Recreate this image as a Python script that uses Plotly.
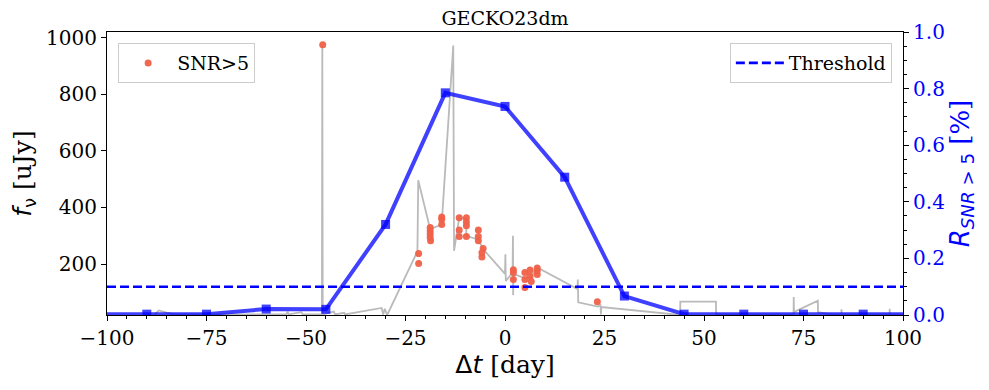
import plotly.graph_objects as go

# light curve (gray line), time in days relative to peak, flux in uJy
flux_t = [-88, -87, -85, -83, -60, -55, -54.6, -54.4, -51.2, -50.8, -46, -45.9, -45.8,
          -43, -42.7, -40.4, -40.2, -31, -30.6, -30.2, -29.6, -22, -21.8, -18.8, -15.9,
          -15.8, -13.0, -12.8, -11.5, -9.8, -9.7, -6.7, -5.5, 0.0, 0.1, 0.2, 1.9, 2.0,
          2.05, 2.1, 5.0, 6.3, 8.1, 18.2, 18.3, 18.4, 23.3, 24.0, 24.1, 24.2, 44.0, 44.05,
          53.0, 53.05, 72.5, 72.55, 72.6, 78.6, 78.65, 82.0, 84.5, 84.55, 84.6, 96.6,
          96.65, 96.7, 100]
flux_v = [22, 36, 28, 22, 22, 22, 32, 22, 30, 22, 22, 975, 22,
          32, 22, 28, 22, 45, 22, 42, 20, 245, 496, 323, 340,
          365, 972, 247, 364, 358, 300, 286, 253, 165, 235, 140, 170, 300,
          91, 165, 150, 150, 188, 112, 145, 65, 50, 55, 22, 48, 20, 67,
          67, 22, 22, 84, 30, 71, 30, 22, 22, 40, 22, 22,
          42, 22, 22]

# detections with SNR > 5
snr_t = [-45.8, -21.7, -21.7, -18.8, -18.8, -18.8, -18.8, -18.7, -15.9, -15.9, -15.9,
         -11.5, -11.5, -11.5, -9.7, -9.7, -9.7, -9.7, -6.7, -6.7, -6.7, -5.5, -5.8, -5.8,
         2.1, 2.1, 2.1, 5.0, 5.0, 5.0, 6.3, 6.3, 6.6, 8.1, 8.1, 8.1, 23.2]
snr_v = [975, 237, 202, 329, 318, 306, 294, 282, 366, 358, 340,
         364, 320, 297, 364, 349, 335, 297, 320, 297, 282, 255, 240, 225,
         180, 170, 145, 170, 145, 117, 179, 157, 138, 186, 176, 163, 67]

# fraction of SNR>5 detections per 15-day bin
ratio_t = [-105, -90, -75, -60, -45, -30, -15, 0, 15, 30, 45, 60, 75, 90, 105]
ratio_v = [0.003, 0.003, 0.003, 0.021, 0.02, 0.32, 0.785, 0.737, 0.487, 0.067,
           0.003, 0.003, 0.003, 0.003, 0.003]

threshold = 0.1
x_range = [-100, 100]

SERIF = "DejaVu Serif, serif"
SANS = "DejaVu Sans"

fig = go.Figure()

fig.add_trace(go.Scatter(
    x=flux_t, y=flux_v, mode="lines",
    line=dict(color="#bababa", width=1.8),
    showlegend=False, hoverinfo="skip"
))

fig.add_trace(go.Scatter(
    x=snr_t, y=snr_v, mode="markers", name="SNR&gt;5",
    marker=dict(color="#f06048", size=7, opacity=0.95),
    legend="legend"
))

fig.add_trace(go.Scatter(
    x=ratio_t, y=ratio_v, mode="lines+markers", yaxis="y2",
    line=dict(color="rgba(0,0,255,0.75)", width=4),
    marker=dict(symbol="square", size=9, color="rgba(0,0,255,0.75)"),
    showlegend=False
))

fig.add_trace(go.Scatter(
    x=x_range, y=[threshold, threshold], mode="lines", yaxis="y2",
    name="Threshold",
    line=dict(color="blue", width=2.6, dash="9px,4px"),
    legend="legend2"
))

axis_common = dict(
    showline=True, linecolor="black", linewidth=1.2,
    ticks="outside", ticklen=5, tickwidth=1.1, tickcolor="black",
    showgrid=False, zeroline=False,
)

# the page body adds an 8px offset, so the figure is sized to fit inside it
fig.update_layout(
    width=973, height=374,
    margin=dict(l=99, r=76, t=24, b=66),
    paper_bgcolor="white", plot_bgcolor="white",
    font=dict(family=SERIF, color="black", size=20),
    title=dict(text="GECKO23dm", x=0.5, xref="paper", xanchor="center",
               y=1 - 10 / 374, yanchor="middle",
               font=dict(family=SERIF, size=19, color="black")),
    xaxis=dict(
        range=x_range, dtick=25, tick0=0, mirror=True,
        minor=dict(dtick=5, tick0=0, ticks="outside", ticklen=3, tickcolor="black"),
        tickfont=dict(family=SERIF, size=20),
        title=dict(text=f"<span style='font-family:{SANS}'>Δ<i>t</i></span> [day]",
                   font=dict(family=SERIF, size=25), standoff=2),
        **axis_common
    ),
    yaxis=dict(
        range=[20, 1020], dtick=200, tick0=0, mirror=True,
        tickfont=dict(family=SERIF, size=20),
        title=dict(text=f"<span style='font-family:{SANS}'><i>f</i><sub>ν</sub></span> [uJy]",
                   font=dict(family=SERIF, size=25), standoff=8),
        **axis_common
    ),
    yaxis2=dict(
        overlaying="y", side="right", range=[0, 1], dtick=0.2, tick0=0,
        tickformat=".1f",
        minor=dict(dtick=0.05, tick0=0, ticks="outside", ticklen=3, tickcolor="black"),
        tickfont=dict(family=SERIF, size=20, color="blue"),
        title=dict(text=f"<span style='font-family:{SANS}'><i>R</i><sub><i>SNR</i> &gt; 5</sub></span> [%]",
                   font=dict(family=SERIF, size=26, color="blue"), standoff=6),
        **axis_common
    ),
    legend=dict(x=0.014, y=0.961, xanchor="left", yanchor="top",
                bgcolor="white", bordercolor="#cccccc", borderwidth=1,
                itemwidth=48, font=dict(family=SERIF, size=19)),
    legend2=dict(x=0.986, y=0.961, xanchor="right", yanchor="top",
                 bgcolor="white", bordercolor="#cccccc", borderwidth=1,
                 itemwidth=48, font=dict(family=SERIF, size=19)),
)

fig.write_html("out.html")
